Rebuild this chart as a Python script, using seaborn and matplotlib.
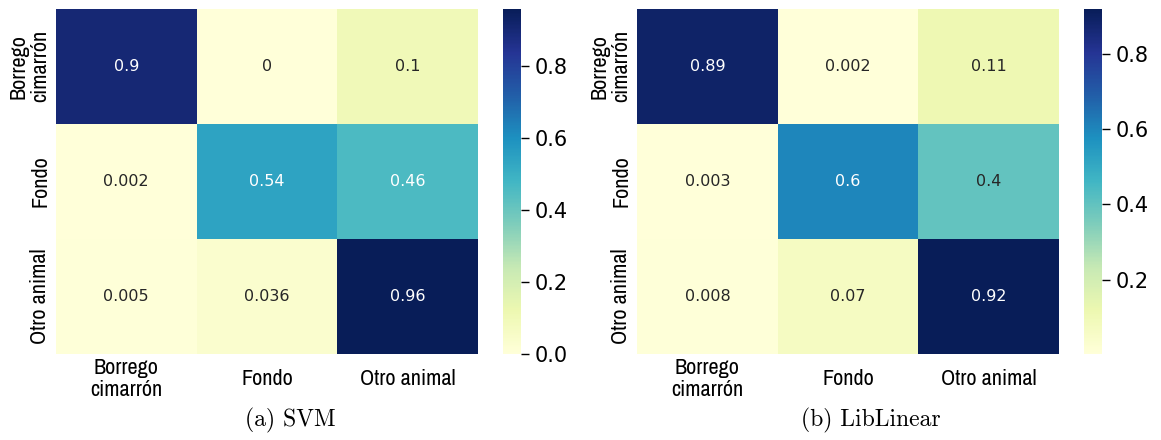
import numpy as np
import pandas as pd
import matplotlib
matplotlib.use("Agg")
import matplotlib.pyplot as plt
from matplotlib import font_manager
import seaborn as sns

# Class labels
labels = ["Borrego\ncimarrón", "Fondo", "Otro animal"]

# Normalized confusion matrices (rows = true class, cols = predicted)
svm_values = [
    [0.9, 0.0, 0.1],
    [0.002, 0.54, 0.46],
    [0.005, 0.036, 0.96],
]
liblinear_values = [
    [0.89, 0.002, 0.11],
    [0.003, 0.6, 0.4],
    [0.008, 0.07, 0.92],
]
captions = ["(a) SVM", "(b) LibLinear"]

# Pick a narrow sans font for the class labels if one is installed
tick_props = {"family": "DejaVu Sans"}
for f in font_manager.fontManager.ttflist:
    if "Narrow" in f.name or "Condensed" in f.name:
        tick_props = {"family": f.name}
        break
else:
    for f in font_manager.fontManager.ttflist:
        if f.stretch in ("condensed", "semi-condensed", 600, 700) or \
                "Condensed" in f.fname or "Narrow" in f.fname:
            tick_props = {"family": f.name, "stretch": f.stretch}
            break

fig = plt.figure(figsize=(11.61, 4.4), dpi=100)

panels = [
    (svm_values, 0.0482, 0.4333, 0.2500),
    (liblinear_values, 0.5487, 0.9337, 0.7500),
]

for (values, hm_left, cb_left, cap_x), caption in zip(panels, captions):
    ax = fig.add_axes([hm_left, 0.195, 0.3635, 0.785])
    cax = fig.add_axes([cb_left, 0.195, 0.0155, 0.785])
    df = pd.DataFrame(values, index=labels, columns=labels)
    sns.heatmap(df, annot=True, cmap="YlGnBu", ax=ax, cbar_ax=cax,
                annot_kws={"fontsize": 11.5})

    ax.tick_params(axis="both", length=0)
    ax.tick_params(axis="x", pad=18)
    ax.tick_params(axis="y", pad=4)
    ax.set_xticklabels(labels, rotation=0, va="center", ha="center",
                       ma="center", fontsize=16, linespacing=1.15,
                       **tick_props)
    ax.set_yticklabels(labels, rotation=90, va="center", ha="right",
                       ma="center", fontsize=16, linespacing=1.1,
                       **tick_props)

    cax.tick_params(labelsize=15, length=6, width=1)

    fig.text(cap_x, 0.045, caption, ha="center", va="center",
             fontsize=17, family="cmr10")

plt.savefig("out.png", dpi=100)
